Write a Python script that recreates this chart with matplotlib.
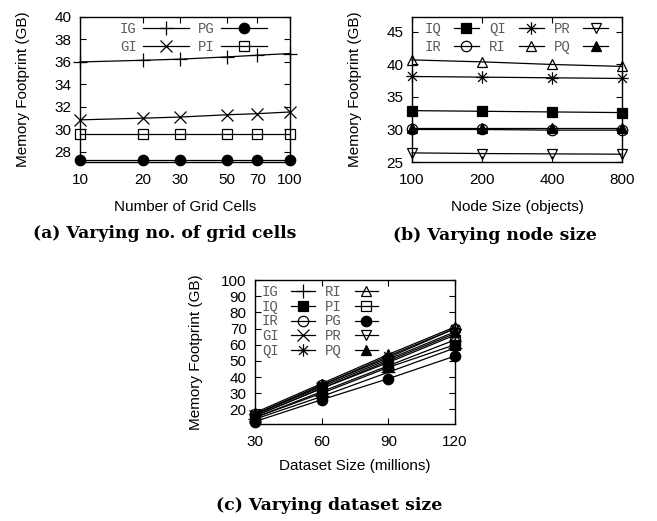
import numpy as np
import matplotlib
matplotlib.use("Agg")
import matplotlib.pyplot as plt
from matplotlib.path import Path
from matplotlib.ticker import FixedLocator, NullLocator, FixedFormatter

# (a) varying number of grid cells
grid_cells = [10, 20, 30, 50, 70, 100]
a_IG = [36.0, 36.15, 36.25, 36.45, 36.6, 36.75]
a_GI = [30.85, 31.0, 31.1, 31.3, 31.4, 31.55]
a_PG = [27.25, 27.25, 27.25, 27.25, 27.25, 27.25]
a_PI = [29.6, 29.6, 29.6, 29.6, 29.6, 29.6]

# (b) varying node size
node_sizes = [100, 200, 400, 800]
b_IQ = [32.9, 32.8, 32.7, 32.6]
b_IR = [30.0, 30.0, 29.9, 29.9]
b_QI = [38.15, 38.05, 37.95, 37.85]
b_RI = [40.7, 40.4, 40.0, 39.7]
b_PR = [26.4, 26.3, 26.25, 26.2]
b_PQ = [30.3, 30.3, 30.3, 30.3]

# (c) varying dataset size
dataset_sizes = [30, 60, 90, 120]
c_IG = [14, 28, 43, 58]
c_IQ = [15, 30, 46, 60]
c_IR = [17, 35, 52, 70]
c_GI = [16, 33, 49, 66]
c_QI = [17, 35, 53, 70]
c_RI = [18, 36, 54, 71]
c_PI = [15, 31, 47, 63]
c_PG = [12.5, 26, 39, 53]
c_PR = [16, 33, 50, 67]
c_PQ = [17, 34, 51, 68]

# gnuplot-style asterisk: + and x overlaid
s = 0.707
ASTERISK = Path([(-1, 0), (1, 0), (0, -1), (0, 1), (-s, -s), (s, s), (-s, s), (s, -s)],
                [Path.MOVETO, Path.LINETO] * 4)

STYLES = {
    "IG": dict(marker="+", mfc="none", ms=10),
    "GI": dict(marker="x", mfc="none", ms=8),
    "PG": dict(marker="o", mfc="black", ms=7.5),
    "PI": dict(marker="s", mfc="none", ms=7.5),
    "IQ": dict(marker="s", mfc="black", ms=7.5),
    "IR": dict(marker="o", mfc="none", ms=7.5),
    "QI": dict(marker=ASTERISK, mfc="none", ms=9),
    "RI": dict(marker="^", mfc="none", ms=7.5),
    "PR": dict(marker="v", mfc="none", ms=7.5),
    "PQ": dict(marker="^", mfc="black", ms=7),
}

SANS = "Liberation Sans"
MONO = "Liberation Mono"
SERIF = "DejaVu Serif"
TICK_FS = 11
LABEL_FS = 11


def draw(ax, x, series):
    for name, y in series:
        ax.plot(x, y, color="black", lw=0.9, mec="black", mew=0.9,
                label=name, clip_on=False, **STYLES[name])


def style_axes(ax, xticks, yticks, ylab_x):
    ax.xaxis.set_major_locator(FixedLocator(xticks))
    ax.xaxis.set_major_formatter(FixedFormatter([str(t) for t in xticks]))
    ax.xaxis.set_minor_locator(NullLocator())
    ax.set_yticks(yticks)
    ax.tick_params(direction="in", top=True, right=True, length=4, width=0.8,
                   labelsize=TICK_FS)
    ax.tick_params(axis="x", pad=8)
    ax.tick_params(axis="y", pad=6)
    for lab in ax.get_xticklabels() + ax.get_yticklabels():
        lab.set_fontfamily(SANS)
    for sp in ax.spines.values():
        sp.set_linewidth(1.0)
    ax.set_ylabel("Memory Footprint (GB)", fontfamily=SANS, fontsize=LABEL_FS)
    ax.yaxis.set_label_coords(ylab_x, 0.5)


def legend(ax, ncol, anchor, hl, htp, cs, ls):
    leg = ax.legend(ncol=ncol, frameon=False, markerfirst=False,
                    prop={"family": MONO, "size": 10}, handlelength=hl,
                    handletextpad=htp, columnspacing=cs, labelspacing=ls,
                    borderpad=0, borderaxespad=0, loc="upper left",
                    bbox_to_anchor=anchor)
    for t in leg.get_texts():
        t.set_color("#5a5a5a")
    return leg


def caption(x, y, text):
    fig.text(x, y, text, ha="center", va="center", fontfamily=SERIF,
             fontweight="bold", fontsize=12.4)


fig = plt.figure(figsize=(6.57, 5.21), dpi=100)

# (a)
ax1 = fig.add_axes([80 / 657, 1 - 162 / 521, 210 / 657, 145 / 521])
draw(ax1, grid_cells, [("IG", a_IG), ("GI", a_GI), ("PG", a_PG), ("PI", a_PI)])
ax1.set_xscale("log")
ax1.set_xlim(10, 100)
ax1.set_ylim(27.1, 40)
style_axes(ax1, grid_cells, [28, 30, 32, 34, 36, 38, 40], -0.237)
ax1.set_xlabel("Number of Grid Cells", fontfamily=SANS, fontsize=LABEL_FS, labelpad=9)
legend(ax1, 2, (0.19, 0.965), 3.3, 0.45, 0.65, 0.25)
caption(165 / 657, 1 - 234 / 521, "(a) Varying no. of grid cells")

# (b)
ax2 = fig.add_axes([412 / 657, 1 - 162 / 521, 210 / 657, 145 / 521])
draw(ax2, node_sizes, [("IQ", b_IQ), ("IR", b_IR), ("QI", b_QI), ("RI", b_RI),
                       ("PR", b_PR), ("PQ", b_PQ)])
ax2.set_xscale("log", base=2)
ax2.set_xlim(100, 800)
ax2.set_ylim(25, 47.3)
style_axes(ax2, node_sizes, [25, 30, 35, 40, 45], -0.239)
ax2.set_xlabel("Node Size (objects)", fontfamily=SANS, fontsize=LABEL_FS, labelpad=9)
legend(ax2, 3, (0.06, 0.965), 1.8, 0.9, 0.75, 0.25)
caption(495 / 657, 1 - 236 / 521, "(b) Varying node size")

# (c)
ax3 = fig.add_axes([255 / 657, 1 - 424 / 521, 200 / 657, 144 / 521])
draw(ax3, dataset_sizes, [("IG", c_IG), ("IQ", c_IQ), ("IR", c_IR), ("GI", c_GI),
                          ("QI", c_QI), ("RI", c_RI), ("PI", c_PI), ("PG", c_PG),
                          ("PR", c_PR), ("PQ", c_PQ)])
ax3.set_xlim(30, 120)
ax3.set_ylim(11, 100)
style_axes(ax3, dataset_sizes, [20, 30, 40, 50, 60, 70, 80, 90, 100], -0.26)
ax3.set_xlabel("Dataset Size (millions)", fontfamily=SANS, fontsize=LABEL_FS, labelpad=7)
legend(ax3, 2, (0.035, 0.965), 1.7, 0.9, 0.75, 0.05)
caption(329 / 657, 1 - 505 / 521, "(c) Varying dataset size")

fig.savefig("out.png", dpi=100)
